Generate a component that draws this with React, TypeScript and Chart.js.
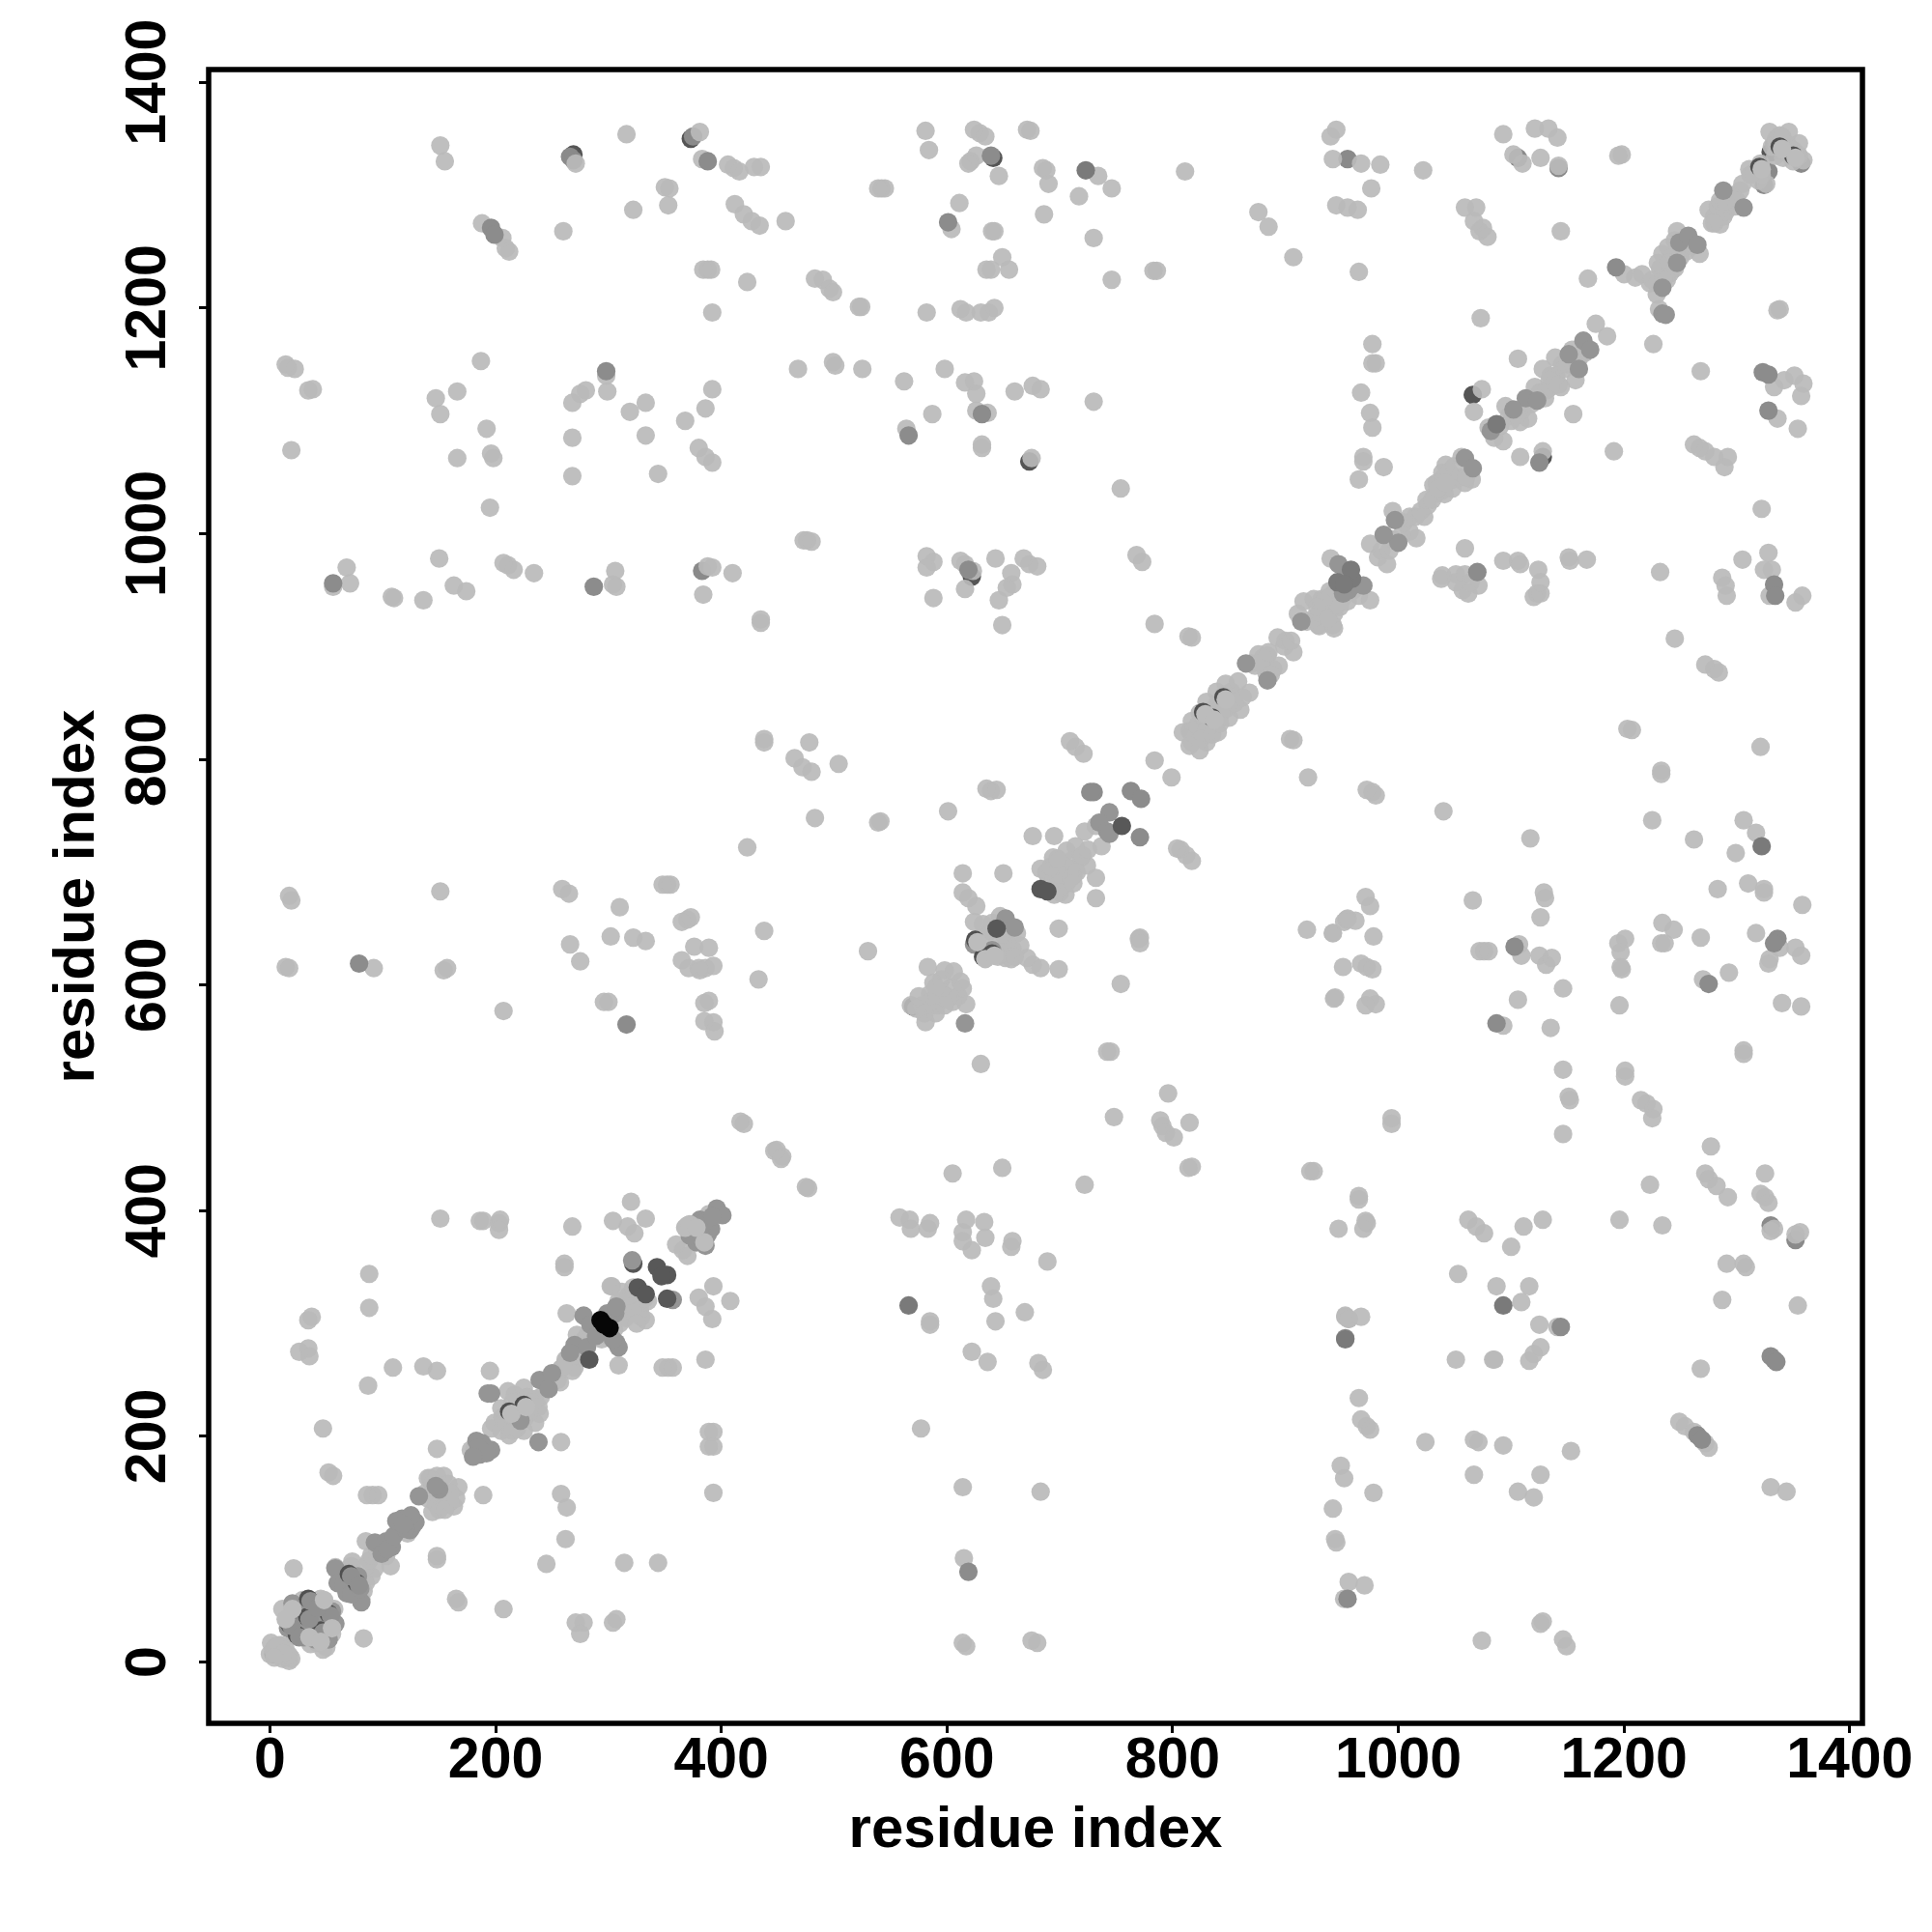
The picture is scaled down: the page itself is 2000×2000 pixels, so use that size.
import React, { useEffect, useRef } from "react";
import { Chart, registerables } from "chart.js";

Chart.register(...registerables);

type Pt = [number, number];

const axisLabel = "residue index";
const tickStep = 200;
const axisMin = -54.3;
const axisMax = 1411.3;

const lightUpperLeft: Pt[] = [
  [151,1344],[155,1330],[271,1328],[316,1354],[381,1356],[383,1332],[406,1327],[411,1324],[416,1321],[429,1325],[435,1325],
  [350,1307],[354,1306],[353,1291],[322,1287],[412,1292],[420,1283],[427,1277],[434,1273],[457,1277],[188,1275],[206,1262],[212,1250],[209,1253],
  [260,1268],[388,1234],[384,1234],[391,1234],[423,1223],[392,1196],[14,1150],[16,1147],[22,1146],[34,1127],[38,1128],[19,1074],[187,1153],
  [147,1120],[166,1126],[151,1106],[192,1093],[166,1067],[196,1071],[198,1067],[268,1085],[298,1140],[299,1126],[280,1127],[275,1124],[268,1116],
  [333,1116],[319,1108],[333,1087],[368,1100],[386,1111],[392,1128],[380,1076],[386,1068],[392,1063],[268,1051],[344,1053],[195,1023],
  [68,970],[71,956],[56,953],[108,944],[110,943],[136,941],[150,978],[163,954],[174,949],[207,974],[216,968],[211,972],[234,965],[306,967],[304,955],[307,953],
  [388,971],[392,970],[410,965],[384,946],[435,924],[435,921],
];

const lightUpperMiddle: Pt[] = [
  [581,1357],[584,1340],[624,1358],[629,1355],[634,1352],[621,1330],[619,1328],[626,1335],[646,1317],[671,1358],[674,1357],[685,1324],[690,1310],[688,1322],
  [734,1317],[746,1306],[717,1299],[686,1283],[730,1262],[746,1225],[786,1233],[783,1233],[811,1321],[542,1306],[545,1306],[539,1306],[611,1293],[604,1270],[642,1268],[640,1268],
  [649,1245],[655,1234],[635,1234],[639,1234],[483,1226],[490,1225],[496,1217],[499,1214],[522,1201],[524,1201],[582,1196],[612,1199],[617,1196],[630,1196],[637,1196],[642,1200],
  [468,1146],[499,1152],[501,1149],[525,1146],[562,1135],[598,1146],[616,1134],[624,1135],[626,1124],[626,1109],[636,1107],[660,1126],[676,1131],[683,1128],[730,1117],[587,1106],
  [564,1093],[631,1076],[631,1079],[675,1067],[754,1040],[476,994],[473,994],[480,993],[582,980],[588,975],[582,970],[612,976],[616,973],[623,967],[643,978],[668,978],[673,973],[680,971],
  [657,965],[658,955],[653,952],[616,951],[588,943],[646,941],[649,919],[768,981],[773,975],[784,920],[817,908],[814,909],[876,1285],[885,1272],[907,1245],
];

const lightUpperRight: Pt[] = [
  [940,1352],[945,1358],[942,1332],[945,1291],[955,1289],[967,1328],[984,1327],[1022,1322],[976,1306],[964,1287],[965,1232],[1093,1354],[1121,1359],[1133,1359],[1141,1351],[1102,1336],
  [1110,1328],[1126,1333],[1142,1326],[1198,1336],[1195,1335],[1059,1289],[1069,1289],[1067,1277],[1072,1268],[1079,1263],[1075,1271],[1144,1268],[1073,1191],[977,1168],[980,1151],[977,1151],
  [967,1125],[975,1107],[977,1094],[969,1068],[965,1048],[987,1059],[969,1064],[1168,1226],[1200,1230],[1210,1227],[1226,1168],[1268,1144],[1106,1155],[1067,1108],[1074,1128],[1336,1198],[1338,1199],
  [1333,1130],[1342,1136],[1351,1140],[1359,1133],[1357,1122],[1336,1102],[1354,1093],[1155,1106],[1108,1068],[1128,1073],[1191,1073],[1262,1079],[1272,1073],[1280,1068],[1292,1068],[1289,1059],[1267,1076],
  [1322,1022],[1059,987],[1093,976],[1106,976],[1108,973],[1124,968],[1151,979],[1152,976],[1167,977],[1039,963],[1051,964],[1059,964],[1232,966],[1287,961],[1305,977],[1328,983],[1331,968],[1324,968],
];

const lightMiddleRow: Pt[] = [
  [1290,954],[1291,945],[1329,945],[1352,939],[1358,945],[1123,947],[1120,944],[1126,947],[1126,957],[1062,947],[1071,954],[1245,907],[1272,884],[1284,877],[1280,880],[1203,827],[1207,826],[1321,811],
  [1233,787],[1233,790],[977,771],[972,773],[980,768],[1040,754],[1225,746],[1262,729],[1306,746],[1317,735],[1299,717],[1117,730],[971,678],[975,670],[954,658],[962,657],[942,646],[978,643],[1066,675],
  [1129,682],[1130,677],[1126,660],[1283,685],[1310,690],[1324,685],[1324,682],[1358,671],[951,616],[967,619],[972,616],[977,614],[943,588],[971,582],[975,588],[980,583],[1076,630],[1072,630],[1080,630],
  [1107,636],[1109,626],[1125,626],[1131,618],[1136,624],[1146,597],[1106,587],[1135,562],[1093,564],[1196,582],[1201,641],[1195,637],[1197,629],[1198,614],[1197,616],[1234,655],[1244,649],[1233,637],[1236,637],
  [1268,642],[1317,646],[1338,633],[1329,623],[1328,619],[1352,633],[1357,626],[1270,605],[1293,611],[1340,584],[1357,581],[1306,542],[1306,539],[1146,525],[1201,524],[1201,519],[1151,501],[1152,498],[1215,498],[1220,495],[1226,490],[1225,482],[1146,468],[994,477],[994,482],[1277,457],
];

const lightMiddleCentre: Pt[] = [
  [478,815],[465,801],[472,793],[480,789],[504,796],[483,748],[541,745],[539,744],[639,772],[635,774],[644,773],[601,754],[650,699],[614,699],[530,630],[676,732],[695,732],[699,650],[771,642],[770,641],[771,637],
  [699,614],[754,601],[630,530],[745,541],[742,541],[796,504],[748,483],[789,480],[791,475],[794,469],[801,465],[815,478],[605,433],[649,438],[722,423],[817,439],[814,438],[925,435],[922,435],
  [454,448],[449,454],[477,420],[475,421],[907,817],[904,818],[920,784],[919,649],[942,646],[952,656],[955,659],[944,589],[709,816],[714,811],[721,805],[784,799],[799,784],[807,720],[812,715],[817,710],[804,721],
];

const lightLeftMiddle: Pt[] = [
  [17,679],[19,675],[151,683],[259,685],[265,681],[348,689],[352,689],[355,689],[310,669],[423,722],[370,658],[373,660],[365,656],[302,643],[266,636],[322,642],[333,639],[275,621],[438,648],[433,605],
  [14,616],[17,615],[92,615],[154,613],[157,615],[376,634],[389,633],[365,622],[371,615],[381,613],[386,615],[393,617],[380,615],[207,577],[300,585],[296,585],[389,586],[385,584],[385,568],[393,567],[394,559],
  [420,477],[417,479],[447,453],[453,446],[438,818],[438,815],
];

const lightLowerLeft: Pt[] = [
  [151,393],[189,391],[203,389],[204,392],[203,383],[186,391],[268,386],[304,391],[317,386],[323,380],[333,393],[320,408],[261,353],[261,350],[88,344],[88,314],[303,333],[263,309],[393,333],[380,323],[386,315],[392,304],[408,320],
  [386,268],[353,261],[348,261],[357,261],[37,306],[34,303],[26,275],[34,278],[35,271],[109,261],[136,262],[148,258],[195,258],[87,245],[47,207],[258,195],[148,189],[389,204],[393,204],[389,191],[393,191],[52,168],[56,165],
  [91,148],[86,148],[96,148],[189,148],[393,150],[258,149],[263,137],[262,109],[245,87],[314,88],[344,88],[148,91],[148,94],[165,56],[167,53],[207,47],[271,35],[278,35],[275,25],[304,35],[307,38],[21,83],[83,21],
];

const lightLowerRight: Pt[] = [
  [558,394],[567,392],[568,384],[585,389],[583,384],[617,392],[614,381],[614,373],[622,365],[633,390],[634,376],[658,373],[657,368],[689,355],[639,333],[641,322],[669,310],[643,302],[585,299],[585,302],
  [622,275],[636,266],[681,265],[685,259],[577,207],[614,155],[683,151],[615,92],[614,17],[617,14],[675,19],[680,17],[947,384],[953,306],[956,304],[949,174],[952,163],[942,136],[944,109],[945,106],[956,71],[952,56],
  [965,410],[965,413],[971,391],[969,384],[972,389],[1062,392],[1069,386],[1076,380],[1111,386],[1128,392],[1100,368],[1196,392],[1234,387],[1223,423],[1272,433],[1275,428],[1282,422],[1292,412],[1325,433],[1321,415],[1328,407],[1325,412],
  [1333,384],[1330,382],[1356,381],[1352,379],[1291,353],[1306,353],[1308,350],[1053,344],[1087,333],[1116,333],[1109,319],[1287,321],[1354,316],[953,307],[956,304],[967,306],[1125,299],[1141,297],
  [1051,268],[1085,268],[1084,268],[1126,279],[1120,273],[1116,267],[1268,260],[965,234],[967,215],[972,209],[975,206],[1024,195],[1067,197],[1071,195],[1093,192],[1153,187],[1249,213],[1254,209],[1262,204],[1272,194],[1275,190],
  [1067,166],[1126,166],[1106,151],[1120,146],[1330,155],[1344,151],[978,150],[970,68],[1128,36],[1126,34],[1074,19],[1146,20],[1149,14],
];

const lightDiagonalA: Pt[] = [
  [1,17],[3,11],[6,7],[11,3],[17,1],[14,11],[8,15],[0,7],[9,6],[19,3],[11,47],[45,56],[57,47],[42,17],[47,11],[29,55],[22,23],
  [10,15],[5,14],[14,5],[17,6],[12,8],[4,4],[36,16],[50,13],[55,25],
  [73,89],[58,84],[83,63],[85,70],[90,76],[93,83],[81,56],[85,107],[107,85],[103,94],[114,124],[122,114],
  [72,85],[85,85],[88,90],[78,62],[90,95],[95,100],[66,80],[62,78],
  [140,163],[154,165],[167,155],[144,158],[160,142],[147,140],[163,138],[144,133],[154,145],[181,188],[178,188],
  [138,150],[142,163],[148,165],[155,150],[160,150],[150,135],[155,135],[165,145],[140,145],[158,158],
  [199,212],[206,217],[212,201],[219,207],[211,240],[217,237],[225,243],[235,233],[239,220],[235,212],[229,220],[222,230],[196,207],[257,248],[258,260],
  [205,205],[210,210],[215,220],[220,225],[225,215],[230,225],[228,235],[232,230],[215,230],[205,225],[225,205],[240,235],[215,205],[238,226],
  [270,261],[275,270],[263,268],[281,289],[294,286],[309,263],[302,333],[322,332],[309,320],[321,322],[332,322],[322,309],[333,303],[329,306],[317,315],[360,370],[370,360],[366,365],[370,387],[373,383],[380,376],[389,397],
  [255,250],[262,268],[268,258],[270,272],[278,285],[272,290],[285,290],[260,262],[310,300],[315,305],[322,315],[328,312],[335,320],[318,325],[312,328],[325,300],[305,295],[298,290],
];

const lightDiagonalB: Pt[] = [
  [583,616],[598,613],[588,602],[594,595],[614,597],[617,583],[568,582],[581,567],[578,582],[591,582],[604,598],[585,592],[601,588],[573,579],[591,592],
  [595,605],[600,590],[605,585],[590,598],[610,590],[598,582],[585,585],[612,603],[606,612],[575,590],[590,575],[580,575],
  [614,682],[619,677],[626,670],[624,656],[632,654],[647,661],[662,646],[653,638],[652,624],[657,623],[671,624],[676,618],[683,615],[630,642],[647,629],
  [640,655],[645,640],[650,645],[658,632],[645,625],[638,648],[665,635],[660,625],
  [688,700],[694,690],[699,685],[706,690],[699,710],[706,719],[709,703],[719,713],[683,703],[714,723],[724,706],[732,695],[732,677],[694,713],[712,697],[701,697],[722,736],[737,723],[732,741],
  [690,695],[695,695],[700,700],[705,705],[710,710],[700,690],[710,695],[715,700],[692,705],[698,712],[705,680],[700,682],[690,685],[712,690],[720,715],[725,720],[695,680],
  [809,824],[817,834],[824,841],[830,851],[839,860],[847,867],[858,869],[868,859],[860,844],[850,837],[840,824],[830,815],[824,808],[817,815],[843,841],[834,834],[825,828],[853,854],[839,833],[845,849],[821,821],
  [815,825],[822,830],[828,837],[833,843],[840,850],[845,857],[852,860],[838,842],[830,826],[825,818],[835,822],[842,832],[848,845],[855,850],[815,812],[862,855],
  [873,883],[876,893],[884,892],[889,880],[880,890],[894,883],[893,908],[907,895],[883,877],[899,900],[870,885],[878,885],[887,875],[900,905],[905,905],[885,895],
  [916,940],[919,922],[929,919],[942,919],[935,929],[945,939],[939,949],[925,942],[911,929],[932,942],[943,929],[940,978],[975,941],[936,934],[930,918],[943,916],[946,937],
  [925,925],[930,930],[935,942],[940,945],[945,950],[950,942],[955,940],[960,950],[965,945],[928,935],[938,925],[948,935],
];

const lightDiagonalC: Pt[] = [
  [975,991],[982,979],[990,973],[1003,999],[995,1020],[1016,996],[1010,1002],[1023,1015],[1026,1025],[1015,1015],[1033,1035],[1039,1038],[1034,1045],[1042,1061],[1056,1068],[1059,1045],[1049,1048],[1039,1054],[1065,1048],[1031,1043],[1041,1035],
  [985,985],[992,985],[995,995],[1005,1010],[1010,1015],[1020,1020],[1025,1030],[1030,1030],[1040,1050],[1045,1055],[1050,1060],[1055,1050],[1048,1040],[1060,1050],[1035,1040],[1042,1045],
  [1080,1094],[1093,1082],[1098,1104],[1108,1099],[1095,1113],[1115,1102],[1131,1127],[1144,1130],[1134,1136],[1128,1146],[1139,1156],[1147,1146],[1154,1163],[1157,1136],[1121,1130],[1175,1186],[1185,1175],
  [1085,1085],[1090,1095],[1100,1100],[1105,1105],[1110,1110],[1118,1115],[1125,1125],[1130,1120],[1135,1130],[1140,1140],[1145,1150],[1150,1150],[1155,1150],[1160,1155],[1135,1140],[1142,1132],[1165,1160],
  [1216,1230],[1234,1248],[1229,1212],[1231,1199],[1242,1245],[1241,1231],[1247,1268],[1267,1248],[1223,1222],[1239,1254],[1249,1251],
  [1225,1225],[1232,1235],[1238,1225],[1240,1240],[1245,1235],[1250,1245],[1255,1250],[1245,1260],[1235,1225],[1230,1240],[1260,1255],
  [1275,1287],[1285,1274],[1303,1304],[1298,1290],[1280,1281],[1293,1297],[1288,1281],[1311,1323],[1321,1328],[1319,1313],[1326,1310],
  [1278,1275],[1283,1290],[1290,1285],[1295,1300],[1300,1295],[1305,1310],[1290,1295],[1280,1275],[1285,1295],[1315,1320],[1322,1318],[1312,1318],
  [1329,1356],[1346,1356],[1334,1335],[1355,1346],[1359,1331],[1346,1336],[1338,1353],[1354,1336],[1331,1343],[1341,1333],
  [1335,1350],[1340,1345],[1345,1345],[1350,1340],[1355,1335],[1350,1330],[1342,1340],[1335,1345],[1340,1352],
  [1038,960],[1051,957],[1057,950],[1064,957],
];

const midOffDiagonal: Pt[] = [
  [388,1330],[196,1271],[199,1265],[298,1144],[56,956],[287,953],[601,1276],[639,1335],[631,1106],[566,1087],[619,968],
  [1193,1236],[1323,1143],[1328,1141],[1328,1109],[1125,1063],[1070,966],[1333,955],[1334,945],[79,619],[316,565],[763,772],[772,765],[730,771],[727,771],[771,731],
  [619,80],[955,56],[953,287],[1144,297],[1330,271],[1333,268],[1335,266],[1265,201],[1269,197],[1336,641],[1333,637],[1275,601],[1103,634],[1087,566],
];

const midUnderLight: Pt[] = [
  [266,1334],[269,1331],[375,1352],[383,967],[955,1332],[1106,1333],[1142,1324],[1330,387],[1352,374],[1328,1321],[1357,1328],[1333,1345],[1324,1309],
];

const midDiagonal: Pt[] = [
  [20,52],[35,50],[45,53],[26,34],[32,27],[37,34],[45,32],[52,20],[58,34],[40,20],[16,30],
  [30,40],[28,46],[38,42],[42,38],[35,30],[48,40],[25,42],[30,22],[44,25],[55,45],[22,30],
  [58,83],[60,70],[68,61],[81,53],[78,76],[65,68],[70,72],[75,68],[72,60],[80,65],
  [93,106],[103,107],[108,102],[99,96],[104,100],[121,124],[117,127],[126,120],[124,117],[129,124],[116,124],[110,112],[120,118],[112,125],[125,130],[118,122],
  [150,153],[147,156],[132,147],[188,194],[196,188],[186,184],[183,196],[190,190],[185,190],[192,185],[180,182],[222,214],[239,250],[247,242],[250,256],[196,238],[193,238],[238,195],
  [270,281],[266,274],[281,279],[278,307],[284,299],[289,289],[307,283],[309,279],[304,286],[306,309],[299,309],[307,315],[321,356],[357,321],
  [381,392],[388,379],[396,402],[401,396],[391,384],[376,384],[386,369],[375,385],[382,378],[385,390],[392,395],[378,372],[372,378],
  [624,636],[637,626],[634,624],[652,659],[660,651],[640,631],[616,566],[744,753],[735,744],[742,736],[744,734],
  [865,885],[884,870],[914,922],[947,973],[955,965],[948,955],[955,950],[961,955],[969,954],[956,950],[951,947],
  [997,1012],[1000,992],[987,999],[1059,1067],[1066,1058],[1082,1091],[1113,1120],[1123,1118],[1102,1110],[1160,1146],[1164,1171],[1170,1163],[1151,1159],
  [1234,1218],[1234,1195],[1237,1194],[1247,1240],[1249,1258],[1257,1264],[1265,1256],[1288,1304],[1306,1289],
];

const crescentDark: Pt[] = [
  [17,34],[24,24],[34,56],[52,43],[33,40],[45,28],[40,50],[70,78],[77,70],[212,222],[225,228],[625,640],[632,625],[640,628],[827,842],[835,837],[845,855],[1338,1343],[1350,1335],[1320,1325],
];

const topMid: Pt[] = [
  [19,32],[26,22],[36,54],[54,41],[35,38],[47,26],[42,48],[72,76],[79,68],
];

const topLight: Pt[] = [
  [214,220],[227,226],[627,638],[634,623],[642,626],[829,840],[837,835],[847,853],[1340,1341],[1352,1333],[1322,1323],
  [20,47],[48,55],[55,30],[35,22],[45,18],[14,38],[368,385],[372,388],[385,372],[378,385],
];

const deepPoints: Pt[] = [
  [723,1322],[566,316],[1322,723],[1093,316],[953,286],[946,957],[959,960],[958,968],[952,955],[1087,1097],
];

const darkPoints: Pt[] = [
  [343,350],[352,343],[347,342],[326,332],[333,326],[352,322],[683,685],[689,683],[755,741],[644,650],[283,268],
];

const blackPoints: Pt[] = [[293,303],[301,296],[296,299]];

const underPoints: Pt[] = [
  [3,7],[322,353],[817,823],[570,581],[1066,1123],[622,962],[269,1336],[373,1350],[1330,1338],[641,1333],[673,1064],[1128,1068],
];

const allLight: Pt[] = [
  ...lightUpperLeft, ...lightUpperMiddle, ...lightUpperRight, ...lightMiddleRow, ...lightMiddleCentre,
  ...lightLeftMiddle, ...lightLowerLeft, ...lightLowerRight, ...lightDiagonalA, ...lightDiagonalB, ...lightDiagonalC,
];

const toXY = (pts: Pt[]) => pts.map(([x, y]) => ({ x, y }));

const boxPlugin = {
  id: "box",
  afterDraw(chart: any) {
    const { ctx, chartArea: a } = chart;
    ctx.save();
    ctx.strokeStyle = "#000";
    ctx.lineWidth = 5.5;
    ctx.lineJoin = "miter";
    ctx.strokeRect(a.left, a.top, a.right - a.left, a.bottom - a.top);
    ctx.restore();
  },
};

const family = '"Liberation Sans", Arial, sans-serif';

export default function App() {
  const ref = useRef<HTMLCanvasElement | null>(null);
  useEffect(() => {
    if (!ref.current) return;
    const makeSet = (data: Pt[], color: string) => ({
      data: toXY(data),
      backgroundColor: color,
      borderWidth: 0,
      pointRadius: 9.6,
      pointHoverRadius: 9.6,
    });
    const plainTick = (v: any) => String(v);
    const chart = new Chart(ref.current, {
      type: "scatter",
      plugins: [boxPlugin],
      data: {
        datasets: [
          makeSet(blackPoints, "#060606"),
          makeSet(darkPoints, "#585858"),
          makeSet(deepPoints, "#7a7a7a"),
          makeSet(midOffDiagonal, "#8c8c8c"),
          makeSet(topLight, "#bcbcbc"),
          makeSet(topMid, "#909090"),
          makeSet(crescentDark, "#505050"),
          makeSet(midDiagonal, "#959595"),
          makeSet(allLight, "rgba(186,186,186,0.92)"),
          makeSet(midUnderLight, "#8a8a8a"),
          makeSet(underPoints, "#555555"),
        ],
      },
      options: {
        animation: false,
        responsive: false,
        devicePixelRatio: 1,
        layout: { padding: { top: 72, right: 72, left: 0, bottom: 0 } },
        plugins: { legend: { display: false }, tooltip: { enabled: false } },
        scales: {
          x: {
            type: "linear",
            min: axisMin,
            max: axisMax,
            afterFit: (s: any) => { s.height = 216; },
            grid: { drawOnChartArea: false, tickColor: "#000", tickWidth: 3, tickLength: 10 },
            border: { display: false },
            ticks: {
              stepSize: tickStep,
              includeBounds: false,
              color: "#000",
              padding: -6,
              maxRotation: 0,
              autoSkip: false,
              callback: plainTick,
              font: { family, weight: "bold", size: 59 },
            },
            title: {
              display: true,
              text: axisLabel,
              color: "#000",
              font: { family, weight: "bold", size: 60 },
              padding: { top: 0, bottom: 69 },
            },
          },
          y: {
            type: "linear",
            min: axisMin,
            max: axisMax,
            afterFit: (s: any) => { s.width = 216; },
            grid: { drawOnChartArea: false, tickColor: "#000", tickWidth: 3, tickLength: 10 },
            border: { display: false },
            ticks: {
              stepSize: tickStep,
              includeBounds: false,
              color: "#000",
              padding: -14,
              minRotation: 90,
              maxRotation: 90,
              crossAlign: "center",
              autoSkip: false,
              callback: plainTick,
              font: { family, weight: "bold", size: 59 },
            },
            title: {
              display: true,
              text: axisLabel,
              color: "#000",
              font: { family, weight: "bold", size: 60 },
              padding: { top: 44, bottom: 0 },
            },
          },
        },
      },
    } as any);
    return () => chart.destroy();
  }, []);
  return (
    <div style={{ position: "absolute", left: 0, top: 0, width: 2000, height: 2000, background: "#fff" }}>
      <canvas ref={ref} width={2000} height={2000} style={{ display: "block", width: 2000, height: 2000 }} />
    </div>
  );
}
